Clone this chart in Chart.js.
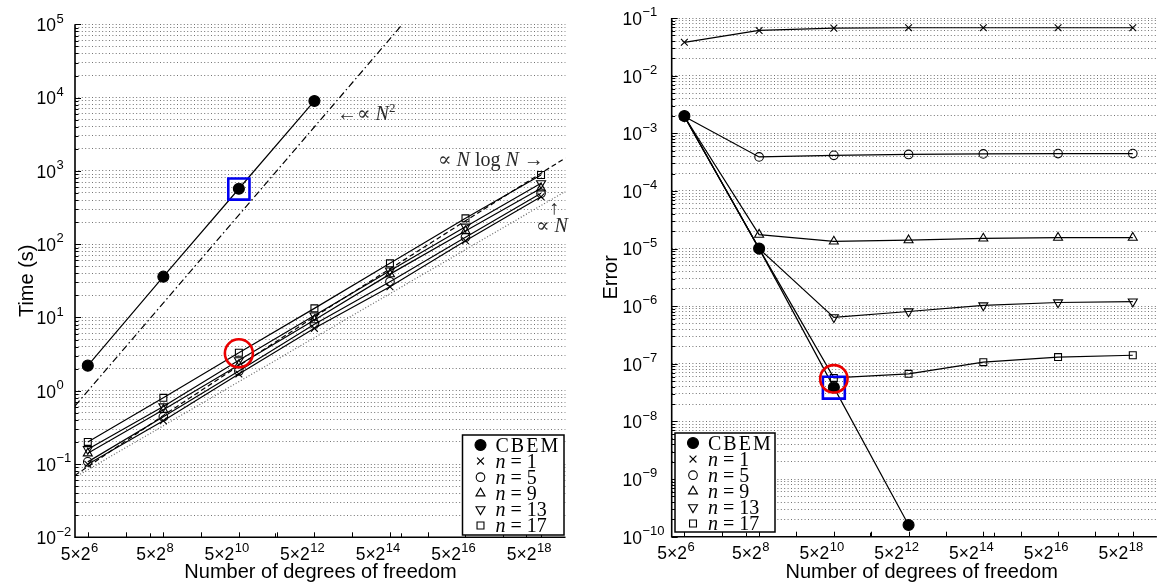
<!DOCTYPE html>
<html>
<head>
<meta charset="utf-8">
<script src="https://cdn.jsdelivr.net/npm/chart.js@4.4.1/dist/chart.umd.min.js"></script>
<style>
  html, body { margin: 0; padding: 0; background: #fff; overflow: hidden; width: 1167px; height: 586px; }
  canvas { position: absolute; top: 0; }
  #timeChart { left: 0; }
  #errorChart { left: 583px; }
</style>
</head>
<body>
<canvas id="timeChart" width="583" height="586"></canvas>
<canvas id="errorChart" width="592" height="586"></canvas>
<script>
// number of degrees of freedom, 5 x 2^k
const dofExponents = [6, 8, 10, 12, 14, 16, 18];
const dofs = [320, 1280, 5120, 20480, 81920, 327680, 1310720];
const xMin = 253, xMax = 2050000;

const seriesLabels = ['CBEM', 'n = 1', 'n = 5', 'n = 9', 'n = 13', 'n = 17'];

// left: Time (s)
const timeTickExponents = [-2, -1, 0, 1, 2, 3, 4, 5];
const timeCBEM = [2.2, 36, 570, 9000];
const timeN1 = [0.099, 0.39, 1.69, 7.1, 26.3, 111, 444];
const timeN5 = [0.107, 0.44, 1.86, 8.1, 30.7, 124, 494];
const timeN9 = [0.14, 0.55, 2.24, 9.2, 39, 151, 578];
const timeN13 = [0.159, 0.61, 2.6, 10.6, 43.5, 173, 676];
const timeN17 = [0.2, 0.8, 3.3, 13.3, 54.8, 225, 878];

// slope guides on the left plot
const slopeN2X = [253, 103000];
const slopeN2Y = [0.62, 100000];
const slopeNlogNX = [253, 1280, 5120, 20480, 81920, 327680, 1310720, 2050000];
const slopeNlogNY = [0.07, 0.46, 2.2, 10.2, 46, 208, 930, 1500];
const slopeNX = [253, 2050000];
const slopeNY = [0.066, 525];

// right: Error
const errorTickExponents = [-10, -9, -8, -7, -6, -5, -4, -3, -2, -1];
const errCBEM = [0.002, 1.0e-5, 3.9e-8, 1.6e-10];
const errN1 = [0.038, 0.061, 0.067, 0.068, 0.068, 0.068, 0.068];
const errN5 = [0.00196, 3.9e-4, 4.15e-4, 4.3e-4, 4.4e-4, 4.45e-4, 4.45e-4];
const errN9 = [0.00196, 1.75e-5, 1.33e-5, 1.4e-5, 1.5e-5, 1.55e-5, 1.55e-5];
const errN13 = [0.00196, 1.0e-5, 6.4e-7, 8.1e-7, 1.03e-6, 1.16e-6, 1.2e-6];
const errN17 = [0.00196, 1.0e-5, 5.7e-8, 6.7e-8, 1.07e-7, 1.31e-7, 1.41e-7];

// highlighted points (x, y)
const timeCircle = [5120, 3.24];
const timeSquare = [5120, 565];
const errCircle = [5120, 5.5e-8];
const errSquare = [5120, 3.86e-8];

const sans = '"Liberation Sans", Arial, sans-serif';
const serif = '"Liberation Serif", "DejaVu Serif", serif';

const markers = [
  { pointStyle: 'circle', radius: 5.5, fill: '#000' },
  { pointStyle: 'crossRot', radius: 4.8 },
  { pointStyle: 'circle', radius: 4.3 },
  { pointStyle: 'triangle', radius: 5.2 },
  { pointStyle: 'triangle', radius: 5.2, rotation: 180 },
  { pointStyle: 'rect', radius: 4.9 }
];

function pts(xs, ys) {
  return ys.map((y, i) => ({ x: xs[i], y: y }));
}

function seriesSet(idx, values) {
  const m = markers[idx];
  return {
    label: seriesLabels[idx],
    data: pts(dofs, values),
    borderColor: '#000',
    borderWidth: 1.2,
    pointStyle: m.pointStyle,
    pointRadius: m.radius,
    pointRotation: m.rotation || 0,
    pointBorderColor: '#000',
    pointBackgroundColor: m.fill || 'rgba(0,0,0,0)',
    pointBorderWidth: 1.1,
    tension: 0,
    order: 1
  };
}

function guideSet(xs, ys, dash, color) {
  return {
    label: 'guide',
    data: pts(xs, ys),
    borderColor: color,
    borderWidth: 1.2,
    borderDash: dash,
    pointRadius: 0,
    tension: 0,
    order: 2
  };
}

function highlightSet(p, style, color, radius) {
  return {
    label: 'mark',
    data: [{ x: p[0], y: p[1] }],
    showLine: false,
    pointStyle: style,
    pointRadius: radius,
    pointBorderColor: color,
    pointBorderWidth: 2.6,
    pointBackgroundColor: 'rgba(0,0,0,0)',
    order: 0
  };
}

function supText(e) {
  return String(e).replace('-', '\u2212');
}

function drawLabelText(ctx, label, x, y) {
  ctx.textAlign = 'left';
  if (label.startsWith('n = ')) {
    ctx.font = 'italic 20px ' + serif;
    ctx.fillText('n', x, y);
    let cx = x + ctx.measureText('n').width + 5;
    ctx.font = '20px ' + serif;
    ctx.fillText('=', cx, y);
    cx += ctx.measureText('=').width + 5;
    ctx.fillText(label.slice(4), cx, y);
  } else {
    ctx.font = '20px ' + serif;
    if ('letterSpacing' in ctx) ctx.letterSpacing = '2px';
    ctx.fillText(label, x, y);
    if ('letterSpacing' in ctx) ctx.letterSpacing = '0px';
  }
}

function drawRuns(ctx, runs, x, y) {
  let cx = x;
  ctx.textAlign = 'left';
  for (const r of runs) {
    ctx.font = r.font;
    ctx.fillText(r.text, cx, y + (r.dy || 0));
    cx += ctx.measureText(r.text).width + (r.gap || 0);
  }
}

const decor = {
  id: 'decor',
  afterDraw(chart, args, o) {
    const ctx = chart.ctx;
    const xs = chart.scales.x, ys = chart.scales.y, area = chart.chartArea;
    ctx.save();
    ctx.setLineDash([]);
    ctx.strokeStyle = '#000';
    ctx.fillStyle = '#000';

    // tick marks on the y axis (pointing inwards)
    ctx.lineWidth = 1;
    const e0 = o.yExps[0], e1 = o.yExps[o.yExps.length - 1];
    for (let e = e0; e <= e1; e++) {
      for (let m = 1; m <= 9; m++) {
        const v = m * Math.pow(10, e);
        if (v > ys.max * 1.0001) continue;
        const py = Math.round(ys.getPixelForValue(v)) + 0.5;
        const len = m === 1 ? 6 : 3.5;
        ctx.beginPath();
        ctx.moveTo(area.left, py);
        ctx.lineTo(area.left + len, py);
        ctx.stroke();
      }
    }
    // tick marks on the x axis
    for (let k = 6; k <= 18; k++) {
      const px = Math.round(xs.getPixelForValue(5 * Math.pow(2, k))) + 0.5;
      ctx.beginPath();
      ctx.moveTo(px, area.bottom);
      ctx.lineTo(px, area.bottom - 5);
      ctx.stroke();
    }
    for (let e = 3; e <= 6; e++) {
      const px = Math.round(xs.getPixelForValue(Math.pow(10, e))) + 0.5;
      ctx.beginPath();
      ctx.moveTo(px, area.bottom);
      ctx.lineTo(px, area.bottom - 4);
      ctx.stroke();
    }

    // axis lines
    ctx.lineWidth = 1.6;
    ctx.beginPath();
    ctx.moveTo(area.left, area.top);
    ctx.lineTo(area.left, area.bottom);
    ctx.lineTo(area.right, area.bottom);
    ctx.stroke();

    // y tick labels 10^e
    ctx.textBaseline = 'alphabetic';
    for (const e of o.yExps) {
      const py = ys.getPixelForValue(Math.pow(10, e));
      ctx.font = '17.5px ' + sans;
      ctx.textAlign = 'right';
      ctx.fillText('10', o.baseRight, py + 6.8);
      ctx.font = '13px ' + sans;
      ctx.textAlign = 'left';
      ctx.fillText(supText(e), o.baseRight + 0.5, py - 1.8);
    }

    // x tick labels 5x2^k
    for (const k of dofExponents) {
      const px = xs.getPixelForValue(5 * Math.pow(2, k));
      ctx.font = '17.5px ' + sans;
      const bw = ctx.measureText('5\u00d72').width;
      ctx.font = '13px ' + sans;
      const sw = ctx.measureText(String(k)).width;
      const left = px - 5 - bw / 2 - sw;
      ctx.textAlign = 'left';
      ctx.font = '17.5px ' + sans;
      ctx.fillText('5\u00d72', left, area.bottom + 22.5);
      ctx.font = '13px ' + sans;
      ctx.fillText(String(k), left + bw + 0.5, area.bottom + 14.5);
    }

    // axis titles
    ctx.font = '20px ' + sans;
    ctx.textAlign = 'center';
    ctx.fillText('Number of degrees of freedom', o.xTitleX, area.bottom + 41);
    ctx.save();
    ctx.translate(o.yTitleX, (area.top + area.bottom) / 2);
    ctx.rotate(-Math.PI / 2);
    ctx.fillText(o.yTitle, 0, 0);
    ctx.restore();

    // legend
    const L = o.legend;
    ctx.fillStyle = '#fff';
    ctx.fillRect(L.x, L.y, L.w, L.h);
    ctx.lineWidth = 1.5;
    ctx.strokeStyle = '#000';
    ctx.strokeRect(L.x, L.y, L.w, L.h);
    seriesLabels.forEach((label, i) => {
      const ry = L.y + 10 + i * 16.1;
      const m = markers[i];
      ctx.fillStyle = m.fill || 'rgba(0,0,0,0)';
      ctx.strokeStyle = '#000';
      ctx.lineWidth = 1.1;
      Chart.helpers.drawPoint(ctx, {
        pointStyle: m.pointStyle,
        radius: m.radius,
        rotation: m.rotation || 0,
        borderWidth: 1.1
      }, L.x + 18, ry);
      ctx.fillStyle = '#000';
      drawLabelText(ctx, label, L.x + 33, ry + 6.5);
    });

    // annotations
    ctx.fillStyle = '#2a2a2a';
    (o.notes || []).forEach(n => drawRuns(ctx, n.runs, n.x, n.y));
    ctx.restore();
  }
};

function logTicks(axis) {
  const t = [];
  const lo = Math.floor(Math.log10(axis.min) + 1e-9);
  const hi = Math.ceil(Math.log10(axis.max) - 1e-9);
  for (let e = lo; e <= hi; e++) {
    for (let m = 1; m <= 9; m++) {
      const v = m * Math.pow(10, e);
      if (v >= axis.min * 0.9999 && v <= axis.max * 1.0001) t.push({ value: v, major: m === 1 });
    }
  }
  axis.ticks = t;
}

function makeChart(id, datasets, yMin, yMax, padding, decorOpts) {
  return new Chart(document.getElementById(id), {
    type: 'line',
    data: { datasets: datasets },
    options: {
      responsive: false,
      animation: false,
      devicePixelRatio: 1,
      events: [],
      layout: { padding: padding },
      scales: {
        x: {
          type: 'logarithmic',
          min: xMin,
          max: xMax,
          ticks: { display: false },
          grid: { display: false, drawTicks: false },
          border: { display: false }
        },
        y: {
          type: 'logarithmic',
          min: yMin,
          max: yMax,
          ticks: { display: false },
          grid: { color: 'rgba(0,0,0,0.55)', lineWidth: 1, drawTicks: false },
          border: { display: false, dash: [1, 2.4] },
          afterBuildTicks: logTicks
        }
      },
      plugins: {
        legend: { display: false },
        tooltip: { enabled: false },
        decor: decorOpts
      }
    },
    plugins: [decor]
  });
}

const ann = '20px ' + serif;
const annI = 'italic 20px ' + serif;

makeChart('timeChart', [
  highlightSet(timeCircle, 'circle', 'rgb(235,0,0)', 14),
  highlightSet(timeSquare, 'rect', 'rgb(0,0,240)', 15),
  seriesSet(0, timeCBEM),
  seriesSet(1, timeN1),
  seriesSet(2, timeN5),
  seriesSet(3, timeN9),
  seriesSet(4, timeN13),
  seriesSet(5, timeN17),
  guideSet(slopeN2X, slopeN2Y, [7, 3, 1.5, 3], '#000'),
  guideSet(slopeNlogNX, slopeNlogNY, [5, 3], '#000'),
  guideSet(slopeNX, slopeNY, [1, 2], '#666')
], 0.01, 100000, { left: 75, right: 17, top: 24.3, bottom: 48.7 }, {
  yExps: timeTickExponents,
  baseRight: 56,
  yTitle: 'Time (s)',
  yTitleX: 33,
  xTitleX: 320.5,
  legend: { x: 462.5, y: 435, w: 101.5, h: 100 },
  notes: [
    { x: 337, y: 120, runs: [{ text: '\u2190\u221d ', font: ann }, { text: 'N', font: annI }, { text: '2', font: '13px ' + serif, dy: -8 }] },
    { x: 438, y: 166, runs: [{ text: '\u221d ', font: ann }, { text: 'N', font: annI }, { text: ' log ', font: ann }, { text: 'N', font: annI }, { text: ' \u2192', font: ann }] },
    { x: 549, y: 214, runs: [{ text: '\u2191', font: ann }] },
    { x: 536, y: 232, runs: [{ text: '\u221d ', font: ann }, { text: 'N', font: annI }] }
  ]
});

makeChart('errorChart', [
  highlightSet(errCircle, 'circle', 'rgb(235,0,0)', 13.7),
  highlightSet(errSquare, 'rect', 'rgb(0,0,240)', 15.5),
  seriesSet(0, errCBEM),
  seriesSet(1, errN1),
  seriesSet(2, errN5),
  seriesSet(3, errN9),
  seriesSet(4, errN13),
  seriesSet(5, errN17)
], 1e-10, 0.1, { left: 88.7, right: 3.3, top: 14.7, bottom: 49.3 }, {
  yExps: errorTickExponents,
  baseRight: 59,
  yTitle: 'Error',
  yTitleX: 34,
  xTitleX: 338.7,
  legend: { x: 92, y: 433, w: 100, h: 99 },
  notes: []
});
</script>
</body>
</html>
